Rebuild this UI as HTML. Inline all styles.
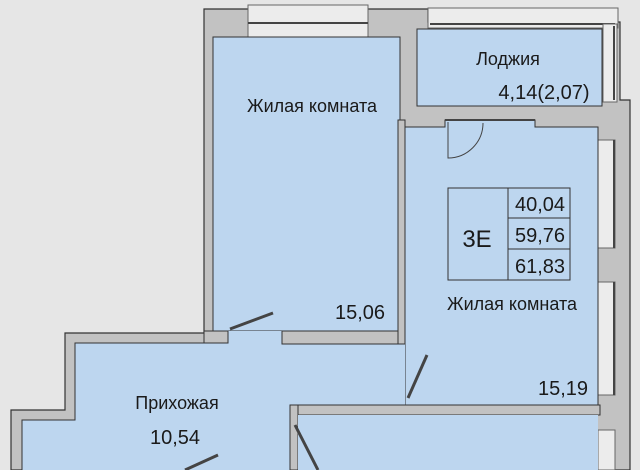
<!DOCTYPE html>
<html><head><meta charset="utf-8"><style>
body{margin:0;background:#e6e6e6}
svg{display:block}
text{font-family:"Liberation Sans",sans-serif;fill:#1a1a1a}
</style></head><body>
<svg width="640" height="470" viewBox="0 0 640 470">
<rect width="640" height="470" fill="#e6e6e6"/>
<path d="M204 9 L428 9 L428 22 L620 22 L620 100 L630 100 L630 470 L11 470 L11 410 L65 410 L65 333 L204 333 Z" fill="#c2c2c2" stroke="#333" stroke-width="1.2"/>
<rect x="248" y="5" width="120" height="32" fill="#ececec" stroke="#666" stroke-width="1"/>
<line x1="248" y1="23" x2="368" y2="23" stroke="#444" stroke-width="2"/>
<rect x="428" y="8" width="190" height="20" fill="#ececec" stroke="#666" stroke-width="1"/>
<line x1="430" y1="24" x2="615" y2="24" stroke="#444" stroke-width="2"/>
<rect x="603" y="24" width="14" height="78" fill="#ececec" stroke="#666"/>
<line x1="614" y1="26" x2="614" y2="100" stroke="#444" stroke-width="2"/>
<rect x="598" y="140" width="17" height="108" fill="#ececec" stroke="#666"/>
<line x1="614" y1="140" x2="614" y2="248" stroke="#444" stroke-width="2"/>
<rect x="598" y="282" width="17" height="113" fill="#ececec" stroke="#666"/>
<line x1="614" y1="282" x2="614" y2="395" stroke="#444" stroke-width="2"/>
<rect x="598" y="430" width="17" height="40" fill="#ececec" stroke="#666"/>
<rect x="213" y="37" width="187" height="294" fill="#bdd6ef" stroke="#333"/>
<rect x="417" y="29" width="185" height="77" fill="#bdd6ef" stroke="#333"/>
<path d="M405 127 L445 127 L445 120 L535 120 L535 127 L598 127 L598 405 L405 405 Z" fill="#bdd6ef" stroke="#333"/>
<path d="M22 470 L22 420 L75 420 L75 343 L228 343 L228 331 L282 331 L282 344 L398 344 L398 340 L405 340 L405 405 L298 405 L298 470 Z" fill="#bdd6ef" stroke="none"/>
<path d="M22 470 L22 420 L75 420 L75 343 L212 343" fill="none" stroke="#333"/>
<rect x="204" y="331" width="24" height="12" fill="#c2c2c2" stroke="#333"/>
<rect x="282" y="331" width="122" height="13" fill="#c2c2c2" stroke="#333"/>
<rect x="398" y="120" width="7" height="224" fill="#c2c2c2" stroke="#333"/>
<rect x="290" y="405" width="310" height="10" fill="#c2c2c2" stroke="#333"/>
<rect x="290" y="405" width="8" height="65" fill="#c2c2c2" stroke="#333"/>
<rect x="298" y="415" width="300" height="55" fill="#bdd6ef"/>
<line x1="445" y1="120" x2="535" y2="120" stroke="#444" stroke-width="2"/>
<path d="M448 122 L448 158 A35 35 0 0 0 483 123" fill="none" stroke="#444"/>
<line x1="230" y1="329" x2="273" y2="313" stroke="#444" stroke-width="3"/>
<line x1="408" y1="398" x2="427" y2="355" stroke="#444" stroke-width="3"/>
<line x1="295" y1="425" x2="318" y2="470" stroke="#444" stroke-width="3"/>
<line x1="185" y1="470" x2="218" y2="455" stroke="#444" stroke-width="3"/>
<rect x="448" y="188" width="122" height="92" fill="none" stroke="#333"/>
<line x1="508" y1="188" x2="508" y2="280" stroke="#333"/>
<line x1="508" y1="218" x2="570" y2="218" stroke="#333"/>
<line x1="508" y1="249" x2="570" y2="249" stroke="#333"/>
<text x="477" y="247" font-size="24" text-anchor="middle">3E</text>
<text x="540" y="211" font-size="20" text-anchor="middle">40,04</text>
<text x="540" y="242" font-size="20" text-anchor="middle">59,76</text>
<text x="540" y="273" font-size="20" text-anchor="middle">61,83</text>
<text x="312" y="112" font-size="18" text-anchor="middle">Жилая комната</text>
<text x="508" y="65" font-size="18" text-anchor="middle">Лоджия</text>
<text x="544" y="99" font-size="20" text-anchor="middle">4,14(2,07)</text>
<text x="360" y="319" font-size="20" text-anchor="middle">15,06</text>
<text x="512" y="310" font-size="18" text-anchor="middle">Жилая комната</text>
<text x="563" y="395" font-size="20" text-anchor="middle">15,19</text>
<text x="177" y="409" font-size="18" text-anchor="middle">Прихожая</text>
<text x="175" y="444" font-size="20" text-anchor="middle">10,54</text>
</svg>
</body></html>
